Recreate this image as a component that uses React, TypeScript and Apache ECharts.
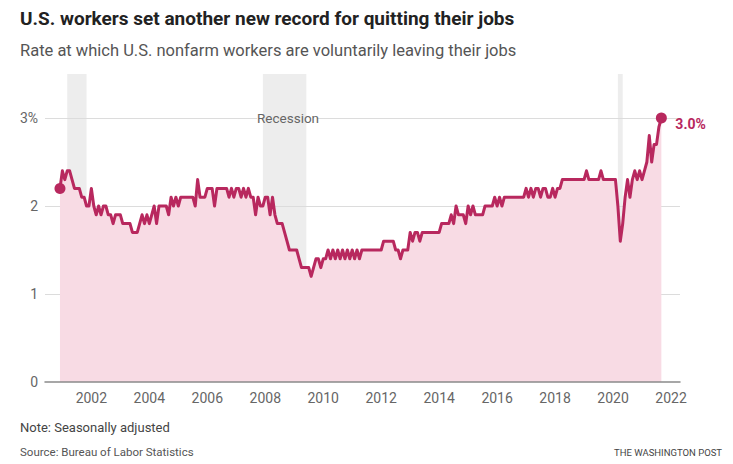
import React, { useEffect, useRef } from "react";
import * as echarts from "echarts";

// Monthly quits rate, total nonfarm, seasonally adjusted (%). Series begins December 2000.
const FIRST_YEAR = 2000;
const FIRST_MONTH = 12;

const rate2000 = [2.2];
const rate2001 = [2.4, 2.3, 2.4, 2.4, 2.3, 2.2, 2.2, 2.2, 2.1, 2.1, 2.0, 2.0];
const rate2002 = [2.2, 2.0, 1.9, 2.0, 1.9, 2.0, 2.0, 1.9, 1.9, 1.8, 1.9, 1.9];
const rate2003 = [1.9, 1.8, 1.8, 1.8, 1.8, 1.7, 1.7, 1.7, 1.8, 1.9, 1.8, 1.9];
const rate2004 = [1.8, 1.9, 2.0, 1.8, 2.0, 2.0, 2.0, 2.0, 1.9, 2.1, 2.0, 2.1];
const rate2005 = [2.0, 2.1, 2.1, 2.1, 2.1, 2.1, 2.1, 2.0, 2.3, 2.1, 2.1, 2.1];
const rate2006 = [2.2, 2.2, 2.2, 2.0, 2.2, 2.2, 2.2, 2.2, 2.2, 2.1, 2.2, 2.1];
const rate2007 = [2.2, 2.2, 2.1, 2.2, 2.1, 2.2, 2.1, 2.1, 1.9, 2.1, 2.0, 2.0];
const rate2008 = [2.1, 2.1, 1.9, 2.1, 1.9, 1.8, 1.8, 1.8, 1.7, 1.6, 1.5, 1.5];
const rate2009 = [1.5, 1.5, 1.4, 1.3, 1.3, 1.3, 1.3, 1.2, 1.3, 1.4, 1.4, 1.3];
const rate2010 = [1.4, 1.4, 1.5, 1.4, 1.5, 1.4, 1.5, 1.4, 1.5, 1.4, 1.5, 1.4];
const rate2011 = [1.5, 1.4, 1.5, 1.4, 1.5, 1.5, 1.5, 1.5, 1.5, 1.5, 1.5, 1.5];
const rate2012 = [1.5, 1.6, 1.6, 1.6, 1.6, 1.6, 1.5, 1.5, 1.4, 1.5, 1.5, 1.5];
const rate2013 = [1.7, 1.6, 1.7, 1.7, 1.6, 1.7, 1.7, 1.7, 1.7, 1.7, 1.7, 1.7];
const rate2014 = [1.7, 1.8, 1.8, 1.8, 1.8, 1.9, 1.8, 2.0, 1.9, 1.9, 1.9, 1.8];
const rate2015 = [2.0, 1.9, 2.0, 1.9, 1.9, 1.9, 1.9, 2.0, 2.0, 2.0, 2.0, 2.1];
const rate2016 = [2.0, 2.1, 2.0, 2.1, 2.1, 2.1, 2.1, 2.1, 2.1, 2.1, 2.1, 2.1];
const rate2017 = [2.2, 2.1, 2.2, 2.1, 2.2, 2.2, 2.1, 2.2, 2.2, 2.1, 2.1, 2.2];
const rate2018 = [2.1, 2.2, 2.2, 2.3, 2.3, 2.3, 2.3, 2.3, 2.3, 2.3, 2.3, 2.3];
const rate2019 = [2.3, 2.4, 2.3, 2.3, 2.3, 2.3, 2.3, 2.4, 2.3, 2.3, 2.3, 2.3];
const rate2020 = [2.3, 2.3, 2.0, 1.6, 1.8, 2.1, 2.3, 2.1, 2.3, 2.4, 2.3, 2.4];
const rate2021 = [2.3, 2.4, 2.5, 2.8, 2.5, 2.7, 2.7, 2.9, 3.0];

const yearLabels = [2002, 2004, 2006, 2008, 2010, 2012, 2014, 2016, 2018, 2020, 2022];
const rateTicks = [0, 1, 2, 3];

// Recessions as [first month, end month], "YYYY-MM"
const recessions: [string, string][] = [
  ["2001-03", "2001-11"],
  ["2007-12", "2009-06"],
  ["2020-03", "2020-05"],
];

const TITLE = "U.S. workers set another new record for quitting their jobs";
const SUBTITLE = "Rate at which U.S. nonfarm workers are voluntarily leaving their jobs";
const NOTE = "Note: Seasonally adjusted";
const SOURCE = "Source: Bureau of Labor Statistics";
const CREDIT = "THE WASHINGTON POST";

const LINE = "#b8285e";
const FILL = "#f8dbe4";
const SHADE = "#ededed";
const GRID = "#dcdcdc";
const FONT = "Roboto, 'Noto Sans', sans-serif";

const X_MIN = 2000.4;
const X_MAX = 2022.31;

const monthToYear = (s: string) => {
  const [y, m] = s.split("-").map(Number);
  return y + (m - 1) / 12;
};

export default function App() {
  const ref = useRef<HTMLDivElement>(null);

  useEffect(() => {
    if (!ref.current) return;
    const chart = echarts.init(ref.current, undefined, { renderer: "svg" });

    const values = [
      ...rate2000, ...rate2001, ...rate2002, ...rate2003, ...rate2004, ...rate2005,
      ...rate2006, ...rate2007, ...rate2008, ...rate2009, ...rate2010, ...rate2011,
      ...rate2012, ...rate2013, ...rate2014, ...rate2015, ...rate2016, ...rate2017,
      ...rate2018, ...rate2019, ...rate2020, ...rate2021,
    ];
    const start = FIRST_YEAR + (FIRST_MONTH - 1) / 12;
    const data = values.map((v, i) => [start + i / 12, v]);
    const ends = [data[0], data[data.length - 1]];

    // Horizontal rules; the top one leaves room for the "Recession" label
    const gridLines: any[] = [];
    rateTicks.filter((t) => t > 0).forEach((t) => {
      if (t === 3) {
        gridLines.push([{ coord: [X_MIN, t] }, { coord: [2007.72, t] }]);
        gridLines.push([{ coord: [2009.79, t] }, { coord: [X_MAX, t] }]);
      } else {
        gridLines.push([{ coord: [X_MIN, t] }, { coord: [X_MAX, t] }]);
      }
    });

    chart.setOption({
      animation: false,
      backgroundColor: "#ffffff",
      textStyle: { fontFamily: FONT },
      grid: { left: 45, right: 53, top: 74, bottom: 82, containLabel: false },
      xAxis: {
        type: "value",
        min: X_MIN,
        max: X_MAX,
        z: 3,
        axisLine: { show: true, onZero: false, lineStyle: { color: "#8a8a8a", width: 1.5 } },
        axisTick: { show: false },
        splitLine: { show: false },
        axisLabel: {
          customValues: yearLabels,
          formatter: (v: number) => String(Math.round(v)),
          color: "#666",
          fontSize: 14,
          margin: 9,
          fontFamily: FONT,
        },
      },
      yAxis: {
        type: "value",
        min: 0,
        max: 3.5,
        interval: 0.5,
        axisLine: { show: false },
        axisTick: { show: false },
        splitLine: { show: false },
        axisLabel: {
          color: "#666",
          fontSize: 14,
          margin: 7,
          fontFamily: FONT,
          formatter: (v: number) =>
            rateTicks.includes(v) ? (v === rateTicks[rateTicks.length - 1] ? `${v}%` : String(v)) : "",
        },
      },
      series: [
        {
          type: "line",
          data,
          z: 2,
          symbol: "none",
          clip: false,
          lineStyle: { color: LINE, width: 3, join: "round", cap: "round" },
          areaStyle: { color: FILL, opacity: 1 },
          endLabel: {
            show: true,
            formatter: (p: any) => `${p.value[1].toFixed(1)}%`,
            color: LINE,
            fontWeight: "bold",
            fontSize: 14,
            fontFamily: FONT,
            distance: 14,
            offset: [0, 6],
          },
          markArea: {
            silent: true,
            z: 0,
            itemStyle: { color: SHADE },
            label: { show: false },
            data: recessions.map(([a, b]) => [{ xAxis: monthToYear(a) }, { xAxis: monthToYear(b) }]),
          },
          markLine: {
            silent: true,
            z: 1,
            symbol: "none",
            label: { show: false },
            lineStyle: { color: GRID, width: 1, type: "solid" },
            emphasis: { disabled: true },
            data: gridLines,
          },
        },
        {
          type: "scatter",
          data: ends,
          z: 4,
          symbolSize: 11,
          itemStyle: { color: LINE, opacity: 1 },
          silent: true,
        },
      ],
      graphic: [
        {
          type: "text",
          left: 20,
          top: 9,
          z: 10,
          style: { text: TITLE, font: `bold 19px ${FONT}`, fill: "#222" },
        },
        {
          type: "text",
          left: 20,
          top: 42,
          z: 10,
          style: { text: SUBTITLE, font: `16.5px ${FONT}`, fill: "#555" },
        },
        {
          type: "text",
          left: 257,
          top: 111,
          z: 10,
          style: { text: "Recession", font: `13.5px ${FONT}`, fill: "#666" },
        },
        {
          type: "text",
          left: 20,
          top: 421,
          z: 10,
          style: { text: NOTE, font: `13px ${FONT}`, fill: "#444" },
        },
        {
          type: "text",
          left: 20,
          top: 446,
          z: 10,
          style: { text: SOURCE, font: `11.5px ${FONT}`, fill: "#555" },
        },
        {
          type: "text",
          right: 11,
          top: 447,
          z: 10,
          style: { text: CREDIT, font: `9.5px ${FONT}`, fill: "#444" },
        },
      ],
    });

    return () => chart.dispose();
  }, []);

  return (
    <div
      ref={ref}
      style={{ position: "fixed", left: 0, top: 0, width: 733, height: 464, background: "#fff" }}
    />
  );
}
